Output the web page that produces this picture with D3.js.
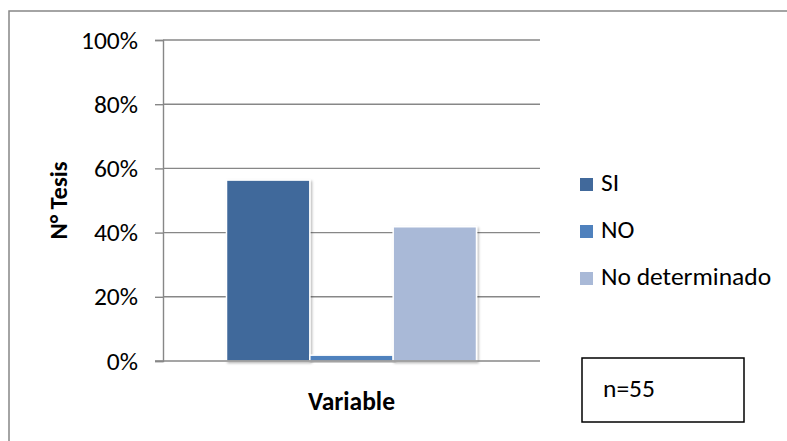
<!DOCTYPE html>
<html>
<head>
<meta charset="utf-8">
<script src="https://cdn.jsdelivr.net/npm/d3@7"></script>
<style>
  html, body { margin: 0; padding: 0; background: #fff; }
  svg { display: block; }
  text { font-family: Carlito, Calibri, Lato, sans-serif; fill: #000; }
</style>
</head>
<body>
<svg id="chart" width="787" height="441"></svg>
<script>
// Thesis classification shares (percent of n = 55)
const categories = ["Variable"];
const seriesNames = ["SI", "NO", "No determinado"];
const seriesValues = [56.36, 1.82, 41.82];
const seriesColors = ["#41699b", "#4f81bd", "#a9b9d7"];
const yTicks = [0, 20, 40, 60, 80, 100];
const sampleLabel = "n=55";
const yTitle = "N° Tesis";

const W = 787, H = 441;
const plot = { left: 163, right: 540, top: 40, bottom: 361 };
const fontSize = 25.5;
const gridColor = "#878787";

const svg = d3.select("#chart");

// drop shadow used under the bars
const defs = svg.append("defs");
const shadow = defs.append("filter").attr("id", "barShadow")
  .attr("x", "-10%").attr("y", "-10%").attr("width", "130%").attr("height", "130%");
shadow.append("feDropShadow").attr("dx", 1.5).attr("dy", 1.5)
  .attr("stdDeviation", 1.2).attr("flood-color", "#000").attr("flood-opacity", 0.28);

// outer chart frame (only top and left edges fall inside the canvas)
svg.append("rect")
  .attr("x", 9).attr("y", 11).attr("width", W + 10).attr("height", H + 10)
  .attr("fill", "#fff").attr("stroke", gridColor).attr("stroke-width", 1.5);

const y = d3.scaleLinear().domain([0, 100]).range([plot.bottom, plot.top]);
const x0 = d3.scaleBand().domain(categories).range([plot.left, plot.right])
  .paddingInner(0).paddingOuter(0.254);
const x1 = d3.scaleBand().domain(seriesNames).range([0, x0.bandwidth()]).padding(0);
const color = d3.scaleOrdinal().domain(seriesNames).range(seriesColors);

// horizontal gridlines
svg.append("g")
  .selectAll("line")
  .data(yTicks.filter(d => d > 0))
  .join("line")
  .attr("x1", plot.left).attr("x2", plot.right)
  .attr("y1", d => y(d)).attr("y2", d => y(d))
  .attr("stroke", gridColor).attr("stroke-width", 1.4);

// y axis with tick labels
const yAxis = svg.append("g")
  .attr("transform", `translate(${plot.left},0)`)
  .call(d3.axisLeft(y).tickValues(yTicks).tickFormat(d => d + "%")
    .tickSize(8).tickPadding(17));
yAxis.select(".domain").attr("stroke", gridColor).attr("stroke-width", 1.4);
yAxis.selectAll(".tick line").attr("stroke", gridColor).attr("stroke-width", 1.4);
yAxis.selectAll(".tick text")
  .style("font-size", fontSize + "px").attr("fill", "#000");

// bars
const group = svg.append("g")
  .selectAll("g")
  .data(categories)
  .join("g")
  .attr("transform", d => `translate(${x0(d)},0)`);

group.selectAll("rect")
  .data(() => seriesNames.map((s, i) => ({ key: s, value: seriesValues[i] })))
  .join("rect")
  .attr("x", d => x1(d.key))
  .attr("y", d => y(d.value))
  .attr("width", x1.bandwidth())
  .attr("height", d => y(0) - y(d.value))
  .attr("fill", d => color(d.key))
  .attr("stroke", "#fff").attr("stroke-width", 1.5)
  .attr("filter", "url(#barShadow)");

// x baseline
svg.append("line")
  .attr("x1", plot.left - 8).attr("x2", plot.right)
  .attr("y1", y(0)).attr("y2", y(0))
  .attr("stroke", gridColor).attr("stroke-width", 1.4);

// axis titles
svg.append("text")
  .attr("x", x0(categories[0]) + x0.bandwidth() / 2)
  .attr("y", 410)
  .attr("text-anchor", "middle")
  .style("font-size", fontSize + "px").style("font-weight", "bold")
  .text(categories[0]);

svg.append("text")
  .attr("transform", `translate(67,${(plot.top + plot.bottom) / 2}) rotate(-90)`)
  .attr("text-anchor", "middle")
  .style("font-size", "24.5px").style("font-weight", "bold")
  .text(yTitle);

// legend
const legend = svg.append("g").attr("transform", "translate(580,0)");
const legendItems = legend.selectAll("g")
  .data(seriesNames)
  .join("g")
  .attr("transform", (d, i) => `translate(0,${191 + i * 47})`);
legendItems.append("rect")
  .attr("x", 0).attr("y", -13).attr("width", 13).attr("height", 13)
  .attr("fill", d => color(d));
legendItems.append("text")
  .attr("x", 21).attr("y", 0)
  .style("font-size", fontSize + "px")
  .text(d => d);

// sample size box
svg.append("rect")
  .attr("x", 582).attr("y", 358).attr("width", 162).attr("height", 64)
  .attr("fill", "#fff").attr("stroke", "#000").attr("stroke-width", 1.5);
svg.append("text")
  .attr("x", 603).attr("y", 397)
  .style("font-size", fontSize + "px")
  .text(sampleLabel);
</script>
</body>
</html>
